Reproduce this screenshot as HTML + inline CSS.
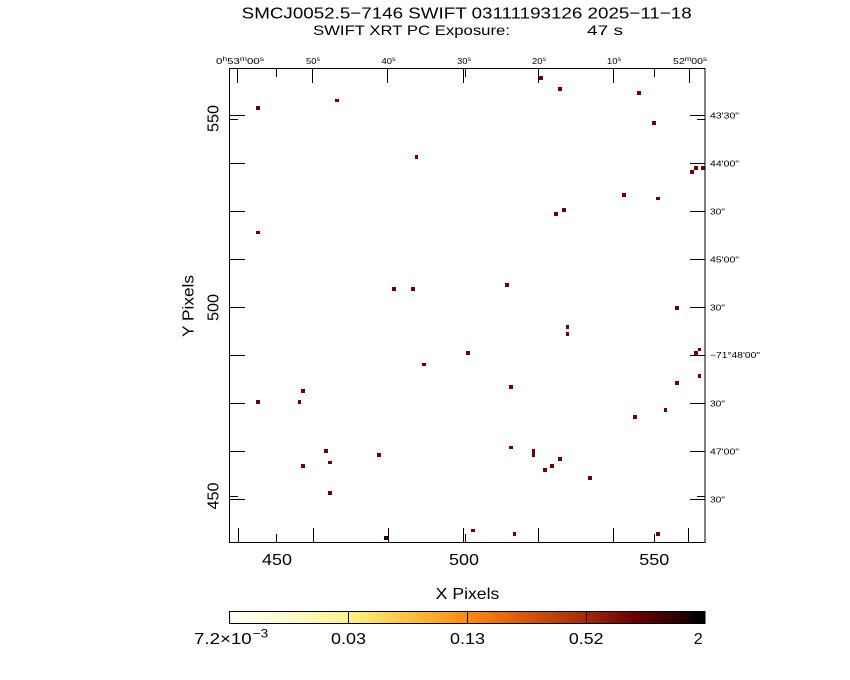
<!DOCTYPE html>
<html>
<head>
<meta charset="utf-8">
<style>
html,body{margin:0;padding:0;background:#fff;}
svg{display:block;}
text{font-family:"Liberation Sans",sans-serif;fill:#000;}
</style>
</head>
<body>
<svg width="850" height="680" viewBox="0 0 850 680" xmlns="http://www.w3.org/2000/svg">
<defs>
<linearGradient id="cb" x1="0" x2="1" y1="0" y2="0">
<stop offset="0" stop-color="#fffff5"/>
<stop offset="0.12" stop-color="#fffbd2"/>
<stop offset="0.25" stop-color="#f8f58a"/>
<stop offset="0.26" stop-color="#fff07c"/>
<stop offset="0.38" stop-color="#ffc040"/>
<stop offset="0.5" stop-color="#ff8a12"/>
<stop offset="0.62" stop-color="#d85808"/>
<stop offset="0.75" stop-color="#a52a05"/>
<stop offset="0.85" stop-color="#6a0000"/>
<stop offset="0.96" stop-color="#200000"/>
<stop offset="0.985" stop-color="#000000"/>
<stop offset="1" stop-color="#000000"/>
</linearGradient>
</defs>
<rect width="850" height="680" fill="#fff"/>

<text x="241.7" y="18.5" font-size="16" textLength="450" lengthAdjust="spacingAndGlyphs">SMCJ0052.5−7146 SWIFT 03111193126 2025−11−18</text>
<text x="313" y="35" font-size="14" textLength="197" lengthAdjust="spacingAndGlyphs">SWIFT XRT PC Exposure:</text>
<text x="587" y="35" font-size="14" textLength="36" lengthAdjust="spacingAndGlyphs">47 s</text>

<g fill="#6e0000" shape-rendering="crispEdges">
<rect x="256" y="106" width="4" height="4"/>
<rect x="392" y="287" width="4" height="4"/>
<rect x="411" y="287" width="4" height="4"/>
<rect x="539" y="76" width="4" height="4"/>
<rect x="558" y="87" width="4" height="4"/>
<rect x="637" y="91" width="4" height="4"/>
<rect x="652" y="121" width="4" height="4"/>
<rect x="694" y="166" width="4" height="4"/>
<rect x="701" y="166" width="4" height="4"/>
<rect x="690" y="170" width="4" height="4"/>
<rect x="622" y="193" width="4" height="4"/>
<rect x="562" y="208" width="4" height="4"/>
<rect x="554" y="212" width="4" height="4"/>
<rect x="505" y="283" width="4" height="4"/>
<rect x="675" y="306" width="4" height="4"/>
<rect x="466" y="351" width="4" height="4"/>
<rect x="301" y="389" width="4" height="4"/>
<rect x="256" y="400" width="4" height="4"/>
<rect x="324" y="449" width="4" height="4"/>
<rect x="377" y="453" width="4" height="4"/>
<rect x="301" y="464" width="4" height="4"/>
<rect x="328" y="491" width="4" height="4"/>
<rect x="694" y="351" width="4" height="4"/>
<rect x="675" y="381" width="4" height="4"/>
<rect x="509" y="385" width="4" height="4"/>
<rect x="633" y="415" width="4" height="4"/>
<rect x="558" y="457" width="4" height="4"/>
<rect x="550" y="464" width="4" height="4"/>
<rect x="543" y="468" width="4" height="4"/>
<rect x="588" y="476" width="4" height="4"/>
<rect x="656" y="532" width="4" height="4"/>
<rect x="335" y="99" width="4" height="3"/>
<rect x="256" y="231" width="4" height="3"/>
<rect x="656" y="197" width="4" height="3"/>
<rect x="422" y="363" width="4" height="3"/>
<rect x="328" y="461" width="4" height="3"/>
<rect x="509" y="446" width="4" height="3"/>
<rect x="471" y="529" width="4" height="3"/>
<rect x="415" y="155" width="3" height="4"/>
<rect x="298" y="400" width="3" height="4"/>
<rect x="566" y="325" width="3" height="4"/>
<rect x="566" y="332" width="3" height="4"/>
<rect x="698" y="374" width="3" height="4"/>
<rect x="664" y="408" width="3" height="4"/>
<rect x="513" y="532" width="3" height="4"/>
<rect x="698" y="348" width="3" height="3"/>
<rect x="532" y="449" width="3" height="8"/>
<rect x="384" y="536" width="4" height="4" fill="#2a0000"/>
</g>

<g stroke="#000" stroke-width="1" fill="none" shape-rendering="crispEdges">
<rect x="229.5" y="68.5" width="475.5" height="474"/>
<path d="M237.5 68v15M312.5 68v15M387.5 68v15M463.5 68v15M538.5 68v15M613.5 68v15M689.5 68v15"/>
<path d="M276.5 68v9M465.5 68v9M654.5 68v9"/>
<path d="M238.5 543v-15M313.5 543v-15M388.5 543v-15M463.5 543v-15M538.5 543v-15M613.5 543v-15M688.5 543v-15"/>
<path d="M276.5 543v-9M465.5 543v-9M654.5 543v-9"/>
<path d="M229 115.5h16M229 163.5h16M229 211.5h16M229 259.5h16M229 307.5h16M229 355.5h16M229 403.5h16M229 451.5h16M229 499.5h16"/>
<path d="M229 119.5h9M229 307.5h9M229 496.5h9"/>
<path d="M705 115.5h-15M705 163.5h-15M705 211.5h-15M705 259.5h-15M705 307.5h-15M705 355.5h-15M705 403.5h-15M705 451.5h-15M705 499.5h-15"/>
<path d="M705 119.5h-8M705 307.5h-8M705 496.5h-8"/>
</g>

<g font-size="8" text-anchor="middle">
<text x="240" y="64" textLength="48" lengthAdjust="spacingAndGlyphs">0<tspan font-size="6" dy="-3">h</tspan><tspan dy="3">53</tspan><tspan font-size="6" dy="-3">m</tspan><tspan dy="3">00</tspan><tspan font-size="6" dy="-3">s</tspan></text>
<text x="313" y="64" textLength="14" lengthAdjust="spacingAndGlyphs">50<tspan font-size="6" dy="-3">s</tspan></text>
<text x="388.5" y="64" textLength="14" lengthAdjust="spacingAndGlyphs">40<tspan font-size="6" dy="-3">s</tspan></text>
<text x="464" y="64" textLength="14" lengthAdjust="spacingAndGlyphs">30<tspan font-size="6" dy="-3">s</tspan></text>
<text x="539" y="64" textLength="14" lengthAdjust="spacingAndGlyphs">20<tspan font-size="6" dy="-3">s</tspan></text>
<text x="614" y="64" textLength="14" lengthAdjust="spacingAndGlyphs">10<tspan font-size="6" dy="-3">s</tspan></text>
<text x="690" y="64" textLength="34" lengthAdjust="spacingAndGlyphs">52<tspan font-size="6" dy="-3">m</tspan><tspan dy="3">00</tspan><tspan font-size="6" dy="-3">s</tspan></text>
</g>

<g font-size="8.5">
<text x="710" y="118.5" textLength="29" lengthAdjust="spacingAndGlyphs">43'30"</text>
<text x="710" y="166.5" textLength="29" lengthAdjust="spacingAndGlyphs">44'00"</text>
<text x="710" y="214.5" textLength="15" lengthAdjust="spacingAndGlyphs">30"</text>
<text x="710" y="262.5" textLength="29" lengthAdjust="spacingAndGlyphs">45'00"</text>
<text x="710" y="310.5" textLength="15" lengthAdjust="spacingAndGlyphs">30"</text>
<text x="710" y="358.2" textLength="50" lengthAdjust="spacingAndGlyphs">−71°48'00"</text>
<text x="710" y="406.5" textLength="15" lengthAdjust="spacingAndGlyphs">30"</text>
<text x="710" y="454.5" textLength="29" lengthAdjust="spacingAndGlyphs">47'00"</text>
<text x="710" y="502.5" textLength="15" lengthAdjust="spacingAndGlyphs">30"</text>
</g>

<g font-size="16" text-anchor="middle">
<text transform="translate(218.3,118.5) rotate(-90)" textLength="27" lengthAdjust="spacingAndGlyphs">550</text>
<text transform="translate(218.3,307.5) rotate(-90)" textLength="27" lengthAdjust="spacingAndGlyphs">500</text>
<text transform="translate(218.3,496) rotate(-90)" textLength="27" lengthAdjust="spacingAndGlyphs">450</text>
<text transform="translate(193.5,306) rotate(-90)" textLength="62" lengthAdjust="spacingAndGlyphs">Y Pixels</text>
</g>

<g font-size="16" text-anchor="middle">
<text x="277" y="565" textLength="30" lengthAdjust="spacingAndGlyphs">450</text>
<text x="464" y="565" textLength="30" lengthAdjust="spacingAndGlyphs">500</text>
<text x="654.3" y="565" textLength="30" lengthAdjust="spacingAndGlyphs">550</text>
<text x="467.5" y="599" textLength="63.6" lengthAdjust="spacingAndGlyphs">X Pixels</text>
</g>

<rect x="229.5" y="611.5" width="475.5" height="12" fill="url(#cb)" stroke="#000" stroke-width="1" shape-rendering="crispEdges"/>
<g stroke="#000" stroke-width="1" shape-rendering="crispEdges">
<path d="M348.5 611v12M467.5 611v12M586.5 611v12"/>
</g>
<g font-size="16">
<text x="194" y="644" textLength="57.7" lengthAdjust="spacingAndGlyphs">7.2×10</text>
<text x="252.7" y="637.5" font-size="12" textLength="15.5" lengthAdjust="spacingAndGlyphs">−3</text>
<text x="348.5" y="644" text-anchor="middle" textLength="35" lengthAdjust="spacingAndGlyphs">0.03</text>
<text x="467.5" y="644" text-anchor="middle" textLength="35" lengthAdjust="spacingAndGlyphs">0.13</text>
<text x="586.2" y="644" text-anchor="middle" textLength="34.5" lengthAdjust="spacingAndGlyphs">0.52</text>
<text x="698.2" y="644" text-anchor="middle">2</text>
</g>
</svg>
</body>
</html>
